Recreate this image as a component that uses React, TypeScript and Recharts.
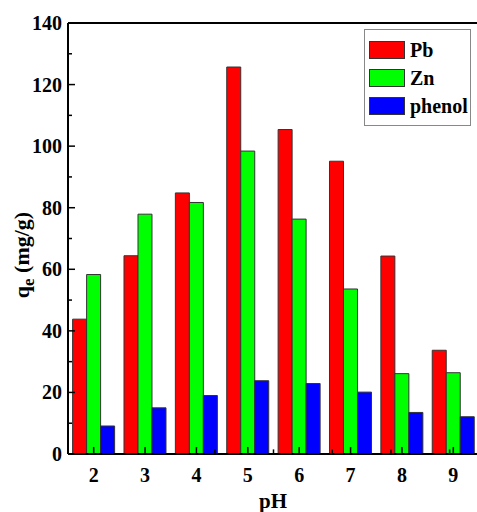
import { BarChart, Bar, XAxis, YAxis, Legend, ReferenceLine } from "recharts";

const phValues = ["2", "3", "4", "5", "6", "7", "8", "9"];
const pbValues = [43.8, 64.4, 84.8, 125.7, 105.4, 95.1, 64.3, 33.7];
const znValues = [58.3, 77.9, 81.7, 98.4, 76.3, 53.6, 26.1, 26.4];
const phenolValues = [9.1, 15.0, 19.0, 23.8, 22.9, 20.1, 13.5, 12.1];
const yTicks = [0, 10, 20, 30, 40, 50, 60, 70, 80, 90, 100, 110, 120, 130, 140];
const minorX = [2.5, 3.5, 4.5, 5.5, 6.5, 7.5, 8.5];

const series = [
  { key: "Pb", color: "#ff0000" },
  { key: "Zn", color: "#00ff00" },
  { key: "phenol", color: "#0000ff" },
];

const data = phValues.map((ph, i) => ({
  ph,
  Pb: pbValues[i],
  Zn: znValues[i],
  phenol: phenolValues[i],
}));

const font = "'Times New Roman', 'Liberation Serif', 'DejaVu Serif', serif";

const YTick = (props: any) => {
  const { x, y, payload } = props;
  const major = payload.value % 20 === 0;
  const ax = x + 6;
  return (
    <g>
      <line x1={ax} x2={ax + (major ? 7 : 4)} y1={y} y2={y} stroke="#000" strokeWidth={1.5} />
      {major && (
        <text x={x} y={y} dy={7} textAnchor="end" style={{ fontFamily: font, fontWeight: 700, fontSize: 20 }} fill="#000">
          {payload.value}
        </text>
      )}
    </g>
  );
};

const XTick = (props: any) => {
  const { x, y, payload } = props;
  return (
    <g>
      <line x1={x} x2={x} y1={y} y2={y - 7} stroke="#000" strokeWidth={1.5} />
      <text x={x} y={y} dy={28} textAnchor="middle" style={{ fontFamily: font, fontWeight: 700, fontSize: 20 }} fill="#000">
        {payload.value}
      </text>
    </g>
  );
};

const LegendBox = () => (
  <div
    style={{
      border: "1px solid #888",
      background: "#fff",
      width: 107,
      height: 97,
      boxSizing: "border-box",
      padding: "8px 0 0 4px",
    }}
  >
    {series.map((s) => (
      <div key={s.key} style={{ display: "flex", alignItems: "center", height: 32, marginTop: -4 }}>
        <div style={{ width: 36, height: 18, background: s.color, border: "1px solid #333", boxSizing: "border-box" }} />
        <span style={{ marginLeft: 5, fontFamily: font, fontWeight: 700, fontSize: 20, color: "#000" }}>
          {s.key}
        </span>
      </div>
    ))}
  </div>
);

export default function App() {
  return (
    <div style={{ position: "absolute", left: 0, top: 0, background: "#fff" }}>
      <BarChart
        width={480}
        height={512}
        data={data}
        margin={{ top: 23, right: 1, bottom: 0, left: 0 }}
        barCategoryGap="9%"
        barGap={0}
      >
        {series.map((s) => (
          <Bar
            key={s.key}
            dataKey={s.key}
            fill={s.color}
            stroke="#333"
            strokeWidth={1}
            isAnimationActive={false}
          />
        ))}
        <XAxis xAxisId="minor" type="number" domain={[1.5, 9.5]} hide />
        {minorX.map((v) => (
          <ReferenceLine
            key={v}
            xAxisId="minor"
            segment={[
              { x: v, y: 0 },
              { x: v, y: 1.5 },
            ]}
            stroke="#000"
            strokeWidth={1.5}
          />
        ))}
        <ReferenceLine y={140} stroke="#000" strokeWidth={2} />
        <XAxis
          dataKey="ph"
          height={58}
          tickSize={0}
          tickMargin={0}
          tick={<XTick />}
          axisLine={{ stroke: "#000", strokeWidth: 2 }}
          label={{
            content: () => (
              <text x={273} y={508} textAnchor="middle" style={{ fontFamily: font, fontWeight: 700, fontSize: 21 }} fill="#000">
                pH
              </text>
            ),
          }}
        />
        <YAxis
          width={68}
          domain={[0, 140]}
          ticks={yTicks}
          interval={0}
          tickSize={0}
          tickMargin={6}
          tick={<YTick />}
          axisLine={{ stroke: "#000", strokeWidth: 2 }}
          label={{
            content: () => (
              <text
                x={29}
                y={255}
                transform="rotate(-90 29 255)"
                textAnchor="middle"
                style={{ fontFamily: font, fontWeight: 700, fontSize: 22 }}
                fill="#000"
              >
                q<tspan fontSize={17} dy={5}>e</tspan>
                <tspan dy={-5}> (mg/g)</tspan>
              </text>
            ),
          }}
        />
        <Legend
          layout="horizontal"
          verticalAlign="middle"
          align="center"
          content={<LegendBox />}
          wrapperStyle={{ position: "absolute", left: 364, top: 29, width: 107 }}
        />
      </BarChart>
    </div>
  );
}
